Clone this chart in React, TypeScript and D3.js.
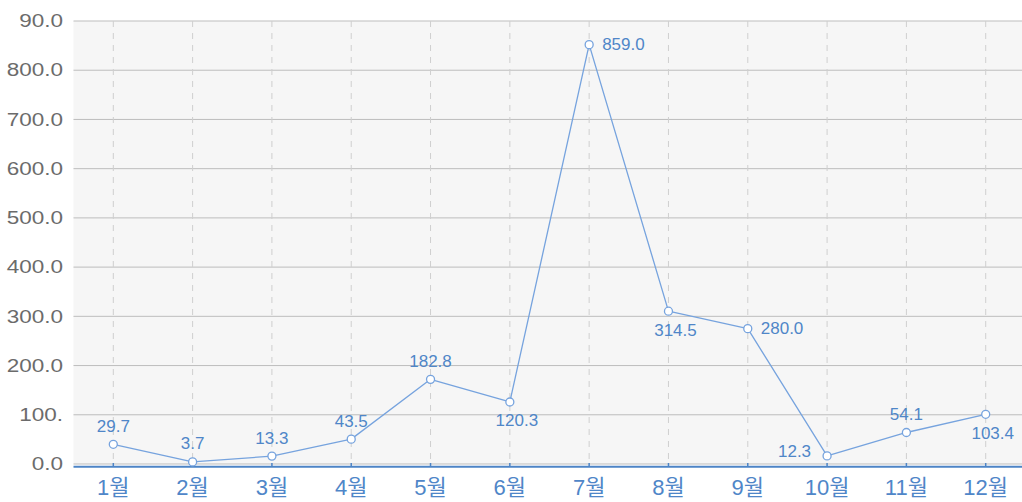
import { useMemo } from 'react'
import * as d3 from 'd3'

// ── data ─────────────────────────────────────────────────────────────────────
const MONTHS = ['1월', '2월', '3월', '4월', '5월', '6월', '7월', '8월', '9월', '10월', '11월', '12월']
// plotted values
const VALUES = [40, 4.3, 16, 50.5, 172, 126, 852, 310.5, 275, 16.5, 64, 101]
// the value labels printed next to each marker
const VALUE_LABELS = ['29.7', '3.7', '13.3', '43.5', '182.8', '120.3', '859.0', '314.5', '280.0', '12.3', '54.1', '103.4']
const Y_TICKS = [0, 100, 200, 300, 400, 500, 600, 700, 800, 900]
const Y_TICK_LABELS = ['0.0', '100.', '200.0', '300.0', '400.0', '500.0', '600.0', '700.0', '800.0', '90.0']

// ── style ────────────────────────────────────────────────────────────────────
const W = 1022
const H = 502
const PLOT = { left: 73.5, right: 1022, top: 21, bottom: 464 }
const C_LINE = '#76a3de'
const C_LABEL = '#4f86c8'
const C_AXIS = '#4d84c6'
const C_YTXT = '#6b6b6b'
const C_GRID = '#bdbdbd'
const C_VGRID = '#cfcfcf'
const C_BG = '#f6f6f6'
const FONT = '"Liberation Sans", Arial, "Noto Sans CJK KR", sans-serif'
// where each value label sits relative to its marker
const LABEL_POS = ['top', 'top', 'top', 'top', 'top', 'bottom', 'right', 'bottom', 'right', 'left', 'top', 'bottom'] as const

export default function App() {
  const x = useMemo(() => d3.scalePoint<string>().domain(MONTHS).range([113.3, 985.7]), [])
  const y = useMemo(() => d3.scaleLinear().domain([0, 900]).range([PLOT.bottom, PLOT.top]), [])

  const pts = MONTHS.map((m, i) => ({ m, v: VALUES[i], label: VALUE_LABELS[i], pos: LABEL_POS[i] }))
  const line = d3.line<typeof pts[0]>().x(d => x(d.m)!).y(d => y(d.v))

  return (
    <svg
      width={W}
      height={H}
      viewBox={`0 0 ${W} ${H}`}
      style={{ position: 'absolute', left: 0, top: 0, display: 'block', background: '#fff' }}
      fontFamily={FONT}
    >
      {/* plot background */}
      <rect x={PLOT.left} y={PLOT.top} width={PLOT.right - PLOT.left} height={PLOT.bottom - PLOT.top} fill={C_BG} />

      {/* horizontal grid */}
      {Y_TICKS.map(t => (
        <line key={t} x1={PLOT.left} x2={PLOT.right} y1={y(t)} y2={y(t)} stroke={C_GRID} strokeWidth={1} />
      ))}

      {/* vertical dashed grid */}
      {MONTHS.map(m => (
        <line key={m} x1={x(m)} x2={x(m)} y1={PLOT.top} y2={PLOT.bottom}
          stroke={C_VGRID} strokeWidth={1} strokeDasharray="6,6" />
      ))}

      {/* y tick labels */}
      {Y_TICKS.map((t, i) => (
        <text key={t} transform={`translate(63,${y(t)}) scale(1.25,1)`} textAnchor="end" dominantBaseline="central"
          fontSize={18} fill={C_YTXT}>{Y_TICK_LABELS[i]}</text>
      ))}

      {/* x axis */}
      <line x1={PLOT.left} x2={PLOT.right} y1={466.8} y2={466.8} stroke={C_AXIS} strokeWidth={2} />
      {MONTHS.map(m => (
        <line key={m} x1={x(m)} x2={x(m)} y1={463} y2={466} stroke={C_AXIS} strokeWidth={1.5} />
      ))}
      {MONTHS.map(m => (
        <text key={m} x={x(m)} y={495} textAnchor="middle" fontSize={22} fill={C_LABEL}>{m}</text>
      ))}

      {/* series line */}
      <path d={line(pts) ?? ''} fill="none" stroke={C_LINE} strokeWidth={1.3} strokeLinejoin="round" />

      {/* markers */}
      {pts.map(d => (
        <circle key={d.m} cx={x(d.m)} cy={y(d.v)} r={4} fill="#fff" stroke={C_LINE} strokeWidth={1.3} />
      ))}

      {/* value labels */}
      {pts.map(d => {
        const px = x(d.m)!
        const py = y(d.v)
        let tx = px, ty = py, anchor: 'middle' | 'start' | 'end' = 'middle'
        if (d.pos === 'top') ty = py - 18
        else if (d.pos === 'bottom') { ty = py + 19; tx = px + 7 }
        else if (d.pos === 'right') { tx = px + 13; anchor = 'start' }
        else { tx = px - 16; anchor = 'end'; ty = py - 4 }
        return (
          <text key={d.m} x={tx} y={ty} textAnchor={anchor} dominantBaseline="central"
            fontSize={17} fill={C_LABEL}>{d.label}</text>
        )
      })}
    </svg>
  )
}
